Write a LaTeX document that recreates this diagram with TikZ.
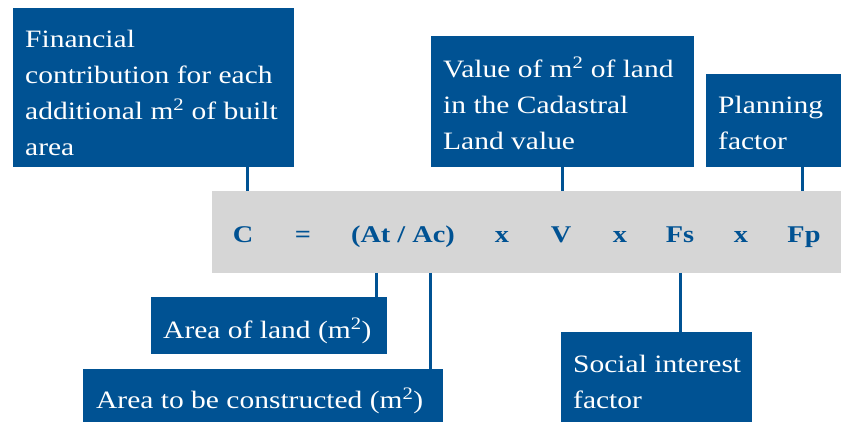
\documentclass[tikz,border=0pt]{standalone}
\usepackage{fontspec}
\setmainfont[FakeStretch=1.18]{Liberation Serif}
\definecolor{dblue}{RGB}{0,82,147}
\definecolor{lgray}{RGB}{214,214,214}
\newcommand\fl{\rule{0pt}{24pt}}
\begin{document}
\begin{tikzpicture}[x=1pt,y=1pt,
 box/.style={fill=dblue, draw=none, inner sep=0pt, anchor=south west},
 txt/.style={text=white, font=\fontsize{25}{36}\selectfont, align=left, inner sep=0pt, anchor=north west},
 eq/.style={text=dblue, font=\fontsize{24}{28}\selectfont\bfseries, anchor=base, inner sep=0pt},
 link/.style={draw=dblue, line width=3pt}]
\useasboundingbox (0,0) rectangle (841,422);
% boxes
\node[box, minimum width=281pt, minimum height=159pt] (fin) at (13,255) {};
\node[box, minimum width=263pt, minimum height=131pt] (val) at (431,255) {};
\node[box, minimum width=135pt, minimum height=93pt] (plan) at (706,255) {};
\node[box, fill=lgray, minimum width=629pt, minimum height=82pt] (bar) at (212,149) {};
\node[box, minimum width=236pt, minimum height=57pt] (land) at (151,68) {};
\node[box, minimum width=360pt, minimum height=53pt] (constr) at (83,0) {};
\node[box, minimum width=191pt, minimum height=90pt] (social) at (561,0) {};
% texts
\node[txt] (finT) at (25,399) {\fl Financial\\contribution for each\\additional m\textsuperscript{2} of built\\area};
\node[txt] (valT) at (443,369) {\fl Value of m\textsuperscript{2} of land\\in the Cadastral\\Land value};
\node[txt] (planT) at (718,333) {\fl Planning\\factor};
\node[txt] (landT) at (163,108) {\fl Area of land (m\textsuperscript{2})};
\node[txt] (constrT) at (96,38) {\fl Area to be constructed (m\textsuperscript{2})};
\node[txt] (socialT) at (573,74) {\fl Social interest\\factor};
% equation
\node[eq] (eC) at (243,179) {C};
\node[eq] (eEq) at (303,179) {=};
\node[eq] (eA) at (403,179) {(At / Ac)};
\node[eq] (ex1) at (502,179) {x};
\node[eq] (eV) at (561,179) {V};
\node[eq] (ex2) at (620,179) {x};
\node[eq] (eFs) at (680,179) {Fs};
\node[eq] (ex3) at (741,179) {x};
\node[eq] (eFp) at (804,179) {Fp};
% connectors
\coordinate (c1) at (247,0);
\coordinate (c2) at (562,0);
\coordinate (c3) at (802,0);
\coordinate (c4) at (376,0);
\coordinate (c5) at (430,0);
\coordinate (c6) at (680,0);
\draw[link] (fin.south -| c1) -- (bar.north -| c1);
\draw[link] (val.south -| c2) -- (bar.north -| c2);
\draw[link] (plan.south -| c3) -- (bar.north -| c3);
\draw[link] (bar.south -| c4) -- (land.north -| c4);
\draw[link] (bar.south -| c5) -- (constr.north -| c5);
\draw[link] (bar.south -| c6) -- (social.north -| c6);
\end{tikzpicture}
\end{document}
